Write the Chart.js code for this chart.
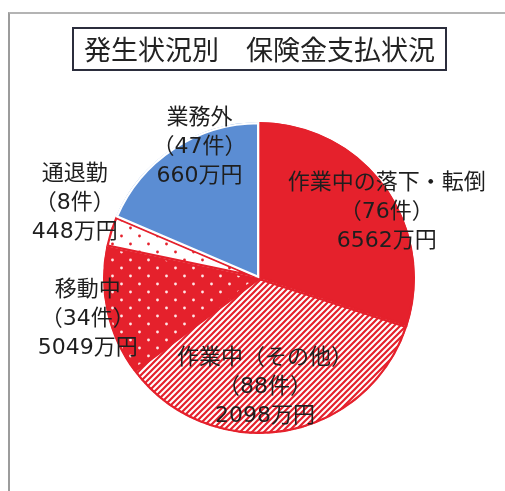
<!DOCTYPE html>
<html>
<head>
<meta charset="utf-8">
<script src="https://cdn.jsdelivr.net/npm/chart.js@4/dist/chart.umd.min.js"></script>
<style>
  html, body { margin: 0; padding: 0; background: #fff; }
  #wrap { position: relative; width: 505px; height: 491px; overflow: hidden; }
  #frame { position: absolute; left: 8px; top: 12px; width: 520px; height: 520px;
           border-left: 2px solid #9c9c9c; border-top: 2px solid #b4b4b4; }
  #title { position: absolute; left: 72px; top: 27px; width: 371px; height: 40px;
           border: 2px solid #2b2d3c; text-align: center; line-height: 40px;
           font-family: "Noto Sans CJK JP", sans-serif; font-size: 27px; color: #222;
           white-space: nowrap; }
  canvas { position: absolute; left: 0; top: 0; }
</style>
</head>
<body>
<div id="wrap">
  <div id="frame"></div>
  <canvas id="c" width="505" height="491"></canvas>
  <div id="title">発生状況別　保険金支払状況</div>
</div>
<script>
// ---- data ----
const categories = ["作業中の落下・転倒", "作業中（その他）", "移動中", "通退勤", "業務外"];
const caseCounts = [76, 88, 34, 8, 47];          // 件
const payoutAmounts = [6562, 2098, 5049, 448, 660]; // 万円

// ---- layout / styles (not data) ----
const RED = "#e5212c";
const BLUE = "#5b8dd3";
// label anchor offsets in units of the pie radius (middle line of each label)
const labelOffsets = [[0.819, -0.419], [0.039, 0.703], [-1.097, 0.265], [-1.181, -0.477], [-0.381, -0.839]];
const LINE_H = 29;
const LABEL_FONT = '22px "DejaVu Sans", "Noto Sans CJK JP", sans-serif';

function stripePattern() {
  const s = 6, c = document.createElement("canvas");
  c.width = s; c.height = s;
  const g = c.getContext("2d");
  g.fillStyle = "#fff"; g.fillRect(0, 0, s, s);
  g.strokeStyle = RED; g.lineWidth = 2.2;
  g.beginPath();
  g.moveTo(-1, s + 1); g.lineTo(s + 1, -1);
  g.moveTo(-1, 1); g.lineTo(1, -1);
  g.moveTo(s - 1, s + 1); g.lineTo(s + 1, s - 1);
  g.stroke();
  return g.createPattern(c, "repeat");
}
function dotPattern(bg, dot) {
  const w = 18, h = 16, c = document.createElement("canvas");
  c.width = w; c.height = h;
  const g = c.getContext("2d");
  g.fillStyle = bg; g.fillRect(0, 0, w, h);
  g.fillStyle = dot;
  [[4.5, 4], [13.5, 12]].forEach(([x, y]) => { g.beginPath(); g.arc(x, y, 1.4, 0, Math.PI * 2); g.fill(); });
  return g.createPattern(c, "repeat");
}

const fills = [RED, stripePattern(), dotPattern(RED, "#ffe6e6"), dotPattern("#fff", RED), BLUE];
const borders = [RED, RED, RED, RED, "#ffffff"];

const labelPlugin = {
  id: "sliceLabels",
  afterDatasetsDraw(chart) {
    const arc = chart.getDatasetMeta(0).data[0];
    if (!arc) return;
    const { x, y, outerRadius } = arc.getProps(["x", "y", "outerRadius"], true);
    const r = outerRadius;
    const ctx = chart.ctx;
    ctx.save();
    ctx.font = LABEL_FONT;
    ctx.fillStyle = "#1e1e1e";
    ctx.textAlign = "center";
    ctx.textBaseline = "middle";
    categories.forEach((cat, i) => {
      const lines = [cat, "（" + caseCounts[i] + "件）", payoutAmounts[i] + "万円"];
      const cx = x + labelOffsets[i][0] * r;
      const cy = y + labelOffsets[i][1] * r;
      lines.forEach((t, k) => ctx.fillText(t, cx, cy + (k - 1) * LINE_H));
    });
    ctx.restore();
  }
};

new Chart(document.getElementById("c"), {
  type: "pie",
  data: {
    labels: categories,
    datasets: [{
      data: caseCounts,
      backgroundColor: fills,
      borderColor: borders,
      borderWidth: 2,
      borderAlign: "inner"
    }]
  },
  options: {
    responsive: false,
    animation: false,
    layout: { padding: { left: 103, right: 90, top: 122, bottom: 57 } },
    plugins: { legend: { display: false }, tooltip: { enabled: false }, title: { display: false } }
  },
  plugins: [labelPlugin]
});
</script>
</body>
</html>
